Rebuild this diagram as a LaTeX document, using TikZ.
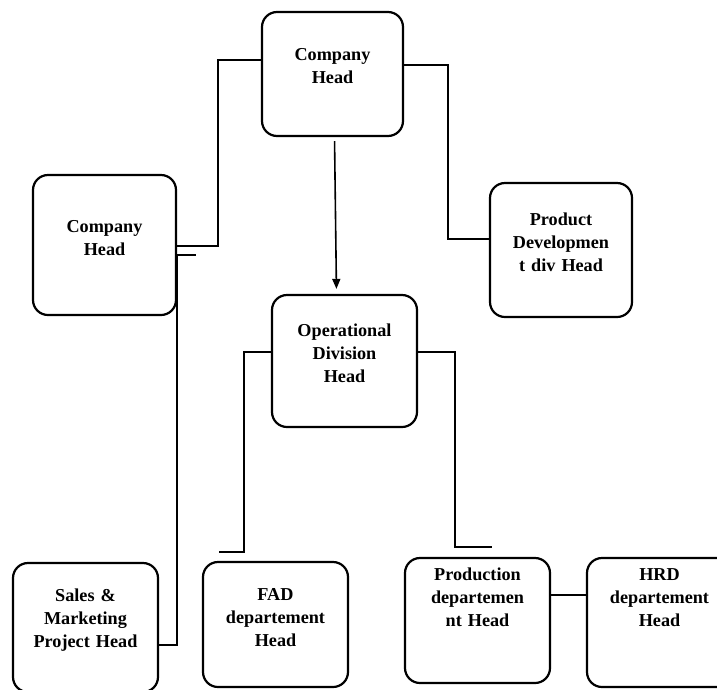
\documentclass[tikz,border=0pt]{standalone}
\usepackage{fontspec}
\setmainfont{Liberation Serif}
\usetikzlibrary{arrows.meta}

\begin{document}
\begin{tikzpicture}[
    x=1pt, y=-1pt,
    font=\bfseries\fontsize{18.2}{23}\selectfont,
    orgbox/.style={
        draw, rounded corners=15pt, line width=2.2pt,
        inner sep=2pt, text width=136pt, align=center
    },
    lift/.style={execute at end node={\endgraf\vspace*{#1}}},
    link/.style={line width=2pt},
    down/.style={-{Triangle[length=10pt, width=8pt]}, line width=1.6pt}
]
\useasboundingbox (0,0) rectangle (717,689);
\clip (0,0) rectangle (717,689);

% ===== TOP LEVEL =====
\node[orgbox, minimum width=141pt, minimum height=124pt, lift=16pt]
    (head) at (332.5,74) {Company\\Head};

% ===== SECOND LEVEL =====
\node[orgbox, minimum width=143pt, minimum height=140pt, lift=14pt]
    (cohead) at (104.5,245) {Company\\Head};
\node[orgbox, minimum width=142pt, minimum height=134pt, lift=16pt]
    (proddev) at (561,250) {Product\\Developmen\\t div Head};
\node[orgbox, minimum width=145pt, minimum height=132pt, lift=16pt]
    (opdiv) at (344.5,361) {Operational\\Division\\Head};

% ===== BOTTOM ROW =====
\node[orgbox, minimum width=145pt, minimum height=129pt, lift=15pt]
    (sales) at (85.5,627.5) {Sales \&\\Marketing\\Project Head};
\node[orgbox, minimum width=145pt, minimum height=125pt, lift=14pt]
    (fad) at (275.5,624.5) {FAD\\departement\\Head};
\node[orgbox, minimum width=145pt, minimum height=125pt, lift=47pt]
    (production) at (477.5,620.5) {Production\\departemen\\nt Head};
\node[orgbox, minimum width=145pt, minimum height=129pt, lift=50pt]
    (hrd) at (659.5,622.5) {HRD\\departement\\Head};

% ===== CONNECTORS =====
\draw[link] ([yshift=14pt]head.west) -- ++(-43,0) |- ([yshift=-1pt]cohead.east);
\draw[link] ([yshift=9pt]head.east) -- ++(44,0) |- ([yshift=11pt]proddev.west);
\draw[link] ([yshift=-17.5pt]sales.east) -| ([yshift=-10pt]cohead.east) -- ++(19,0);

\draw[down, shorten <=4pt, shorten >=5pt] ([xshift=2pt]head.south) -- ([xshift=-8pt]opdiv.north);

\draw[link] ([yshift=9pt]opdiv.west) -- ++(-27,0) -- ++(0,200) -- ++(-25,0);
\draw[link] ([yshift=9pt]opdiv.east) -- ++(37,0) -- ++(0,195) -- ++(37,0);

\draw[link] ([yshift=25.5pt]production.east) -- ([yshift=27.5pt]hrd.west);

\end{tikzpicture}
\end{document}
